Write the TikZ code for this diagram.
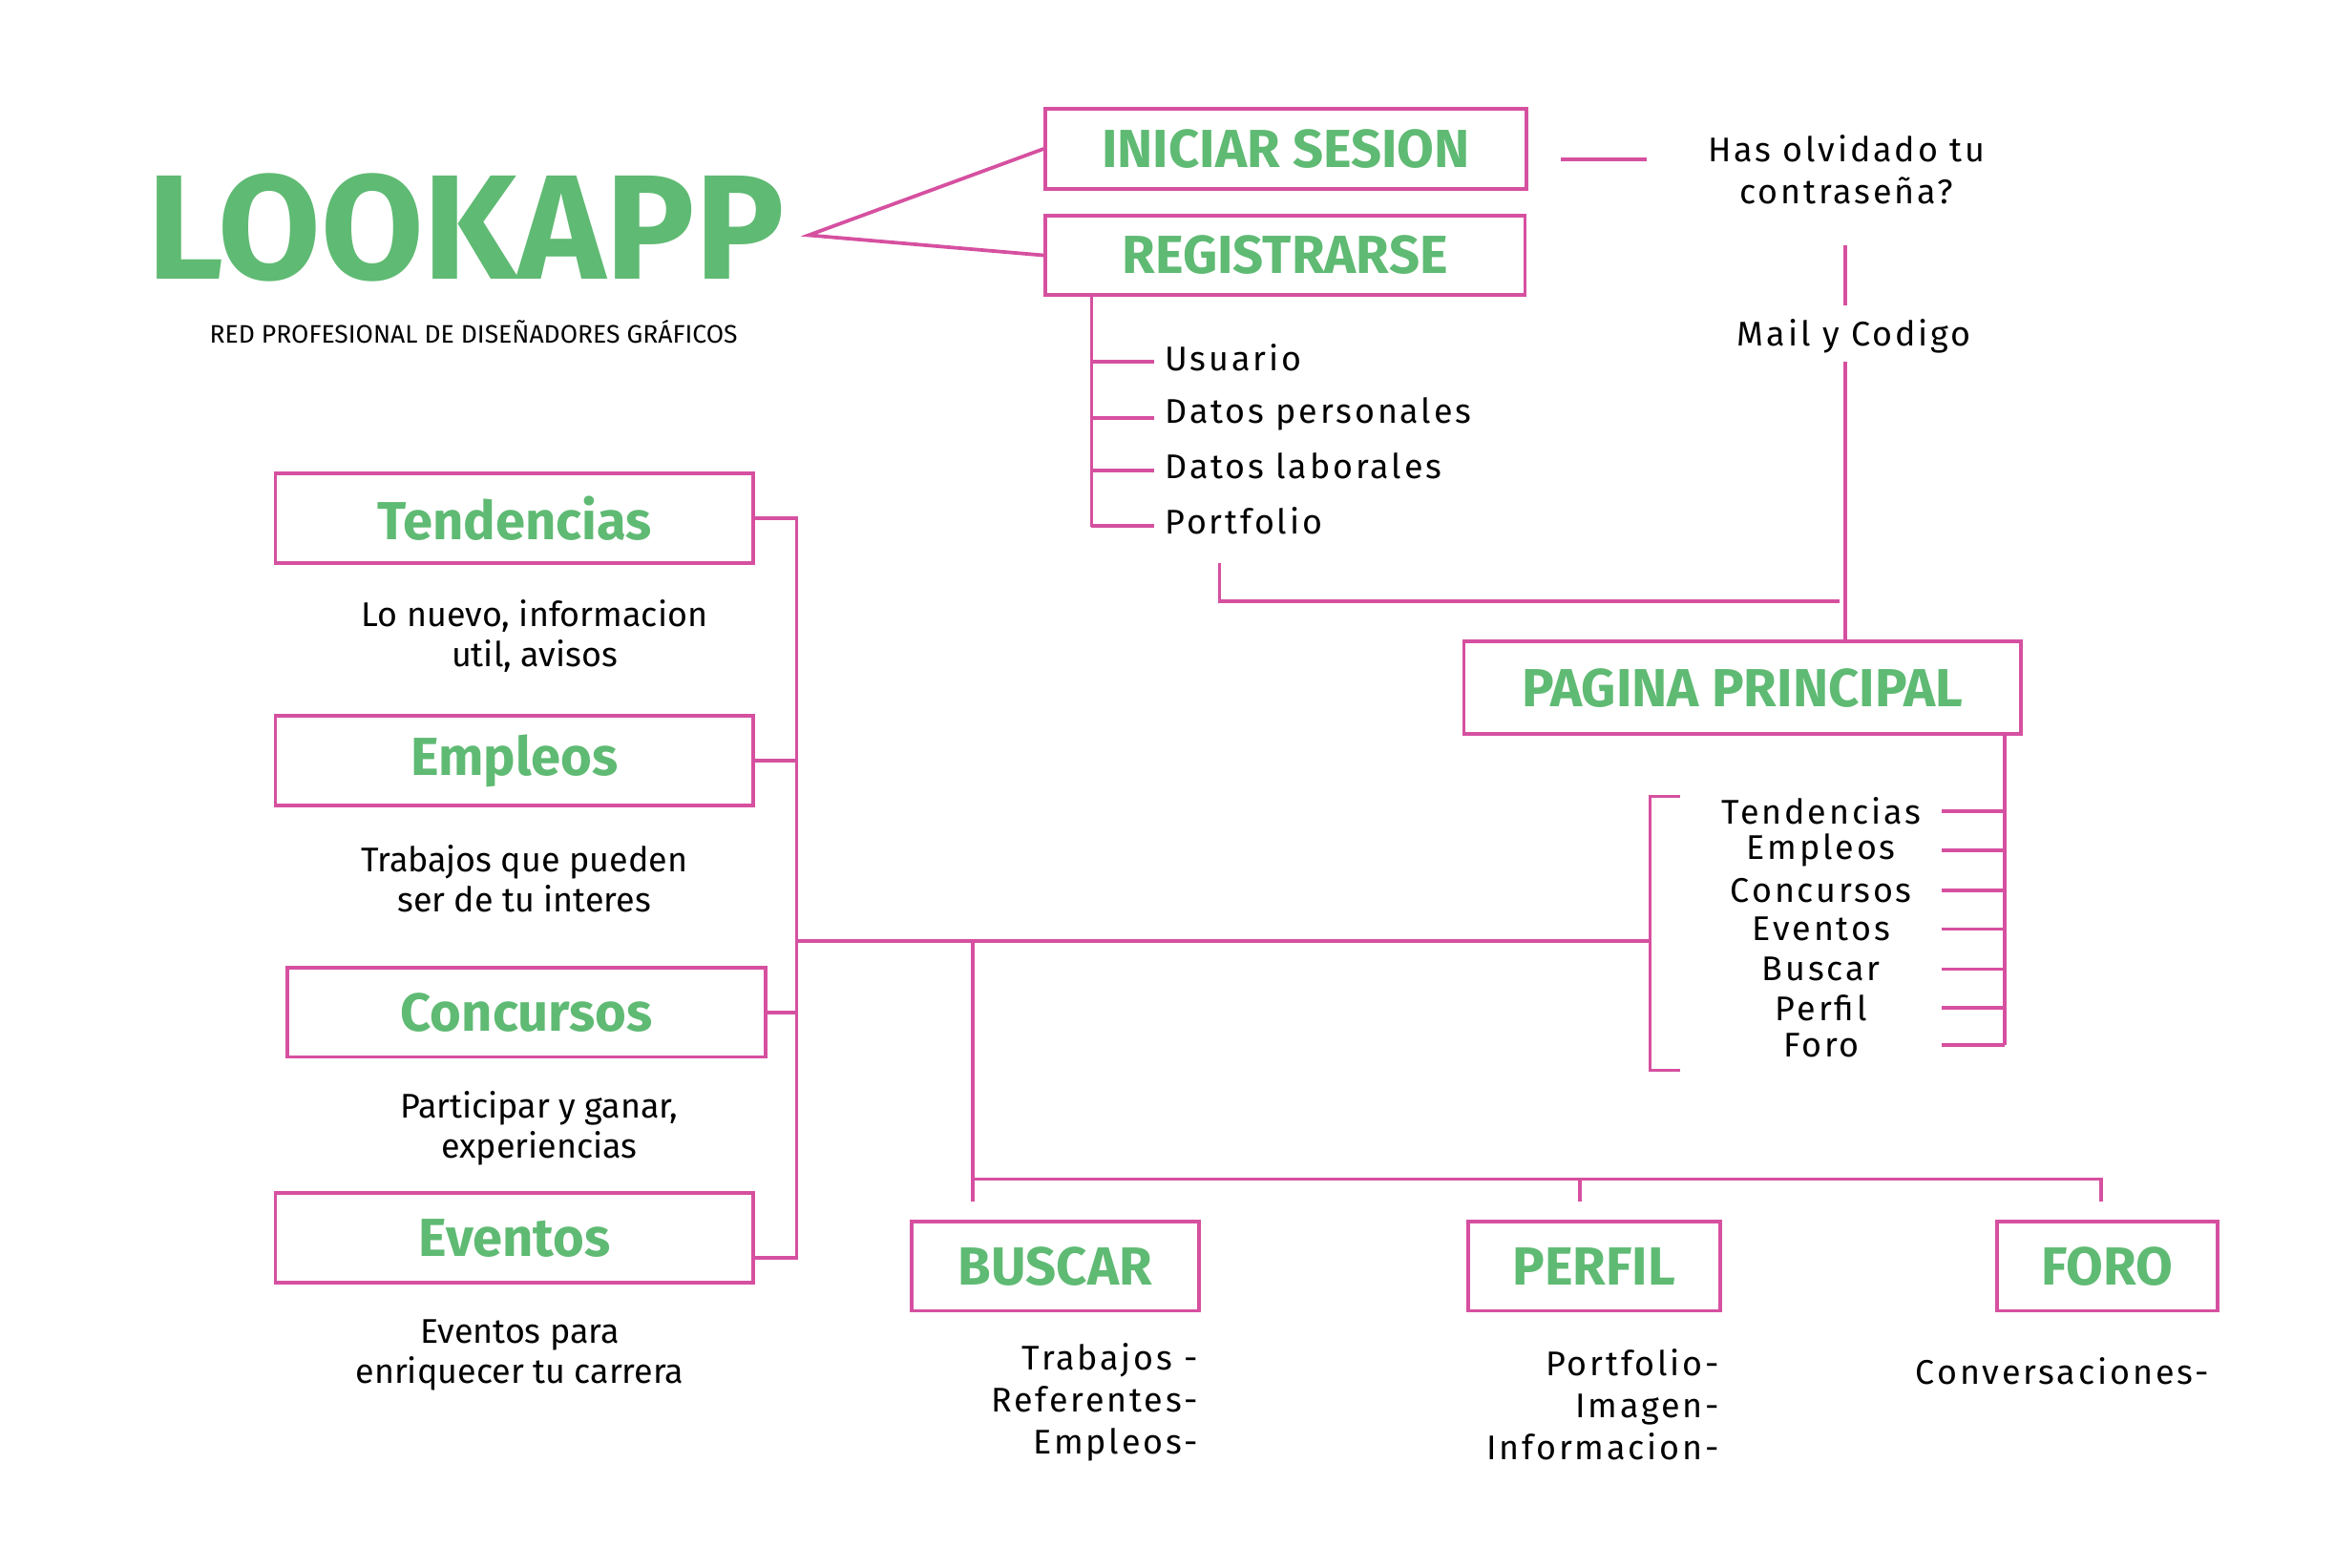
\documentclass[tikz,border=0pt]{standalone}
\usepackage{fontspec}
\setmainfont{Fira Sans}
\newfontfamily\spc[LetterSpace=8]{Fira Sans}
\definecolor{gr}{RGB}{95,186,115}
\definecolor{pk}{RGB}{214,80,160}
\begin{document}
\begin{tikzpicture}[x=0.5pt,y=-0.5pt,
 ln/.style={draw=pk,line width=1.2pt},
 bx/.style={draw=pk,line width=1.2pt,minimum height=30pt,inner sep=0pt},
 ttl/.style={text=gr,font=\bfseries\fontsize{18}{20}\selectfont},
 lab/.style={font=\spc\fontsize{11.5}{14}\selectfont,inner sep=0pt,align=center},
 dsc/.style={font=\fontsize{11.5}{13.5}\selectfont,inner sep=0pt,align=center}]
\useasboundingbox[fill=white] (0,0) rectangle (1568,1053);
\node[text=gr,font=\bfseries\fontsize{50}{52}\selectfont] (logo) at (313,153) {LOOKAPP};
\node[font=\fontsize{8.5}{10}\selectfont] (sub) at (318,223) {RED PROFESIONAL DE DISEÑADORES GRÁFICOS};
\node[bx,minimum width=161.5pt,minimum height=27pt,ttl] (ini) at (863.5,100) {INICIAR SESION};
\node[bx,minimum width=161pt,minimum height=26.5pt,ttl] (reg) at (863,171.5) {REGISTRARSE};
\coordinate (tip) at (543,158);
\draw[ln] (ini.west) -- (tip) -- (reg.west);
\coordinate (h1) at (1048,107); \coordinate (h2) at (1106,107);
\draw[ln] (h1) -- (h2);
\node[lab] (olv) at (1240,114) {Has olvidado tu\\contraseña?};
\node[lab] (mail) at (1245,226) {Mail y Codigo};
\coordinate (m1) at (1239,165); \coordinate (m2) at (1239,205);
\coordinate (m3) at (1239,243); \coordinate (m4) at (1239,432);
\draw[ln] (m1)--(m2) (m3)--(m4);
% registrarse list
\draw[ln] (733,199) -- (733,354);
\foreach \y/\t in {240/Usuario,278/Datos personales,313/Datos laborales,350/Portfolio}{
 \draw[ln] (733,\y+3) -- (775,\y+3);
 \node[lab,anchor=west] (r\y) at (782,\y) {\t};}
\coordinate (p1) at (819,378); \coordinate (p2) at (1235,404);
\draw[ln] (p1) |- (p2);
\node[bx,minimum width=187pt,minimum height=31pt,ttl] (pp) at (1170,462) {PAGINA PRINCIPAL};
\draw[ln] (1346,493) -- (1346,702);
\foreach \y/\t in {545/Tendencias,571/Empleos,598/Concursos,624/Eventos,651/Buscar,677/Perfil,702/Foro}{
 \draw[ln] (1304,\y) -- (1346,\y);
 \node[lab] (pl\y) at (1223,\y) {\t};}
\draw[ln] (1128,535) -- (1108,535) -- (1108,719) -- (1128,719);
\draw[ln] (535,632) -- (1108,632);
% left boxes
\node[bx,minimum width=160.5pt,ttl] (ten) at (345.5,348) {Tendencias};
\node[bx,minimum width=160.5pt,ttl] (emp) at (345.5,511) {Empleos};
\node[bx,minimum width=160.5pt,ttl] (con) at (353.5,680) {Concursos};
\node[bx,minimum width=160.5pt,ttl] (eve) at (345.5,831.5) {Eventos};
\draw[ln] (ten.east) -- (535,348) -- (535,845) -- (506,845);
\draw[ln] (emp.east) -- (535,511);
\draw[ln] (con.east) -- (535,680);
\node[dsc] (d1) at (359,427) {Lo nuevo, informacion\\util, avisos};
\node[dsc] (d2) at (352,590) {Trabajos que pueden\\ser de tu interes};
\node[dsc] (d3) at (362,758) {Participar y ganar,\\experiencias};
\node[dsc] (d4) at (349,910) {Eventos para\\enriquecer tu carrera};
% bottom
\node[bx,minimum width=96.5pt,ttl] (bus) at (708.5,850.5) {BUSCAR};
\node[bx,minimum width=84.5pt,ttl] (per) at (1070.5,850.5) {PERFIL};
\node[bx,minimum width=74pt,ttl] (foro) at (1415,850.5) {FORO};
\draw[ln] (653,632) -- (653,807);
\draw[ln] (653,792) -- (1411,792) -- (1411,807);
\draw[ln] (1061,792) -- (1061,807);
\node[lab,anchor=north east,align=right] (bt) at (805,902) {Trabajos -\\Referentes-\\Empleos-};
\node[lab,anchor=north east,align=right] (pt) at (1155,906) {Portfolio-\\Imagen-\\Informacion-};
\node[lab] (ft) at (1385,921) {Conversaciones-};
\end{tikzpicture}
\end{document}
